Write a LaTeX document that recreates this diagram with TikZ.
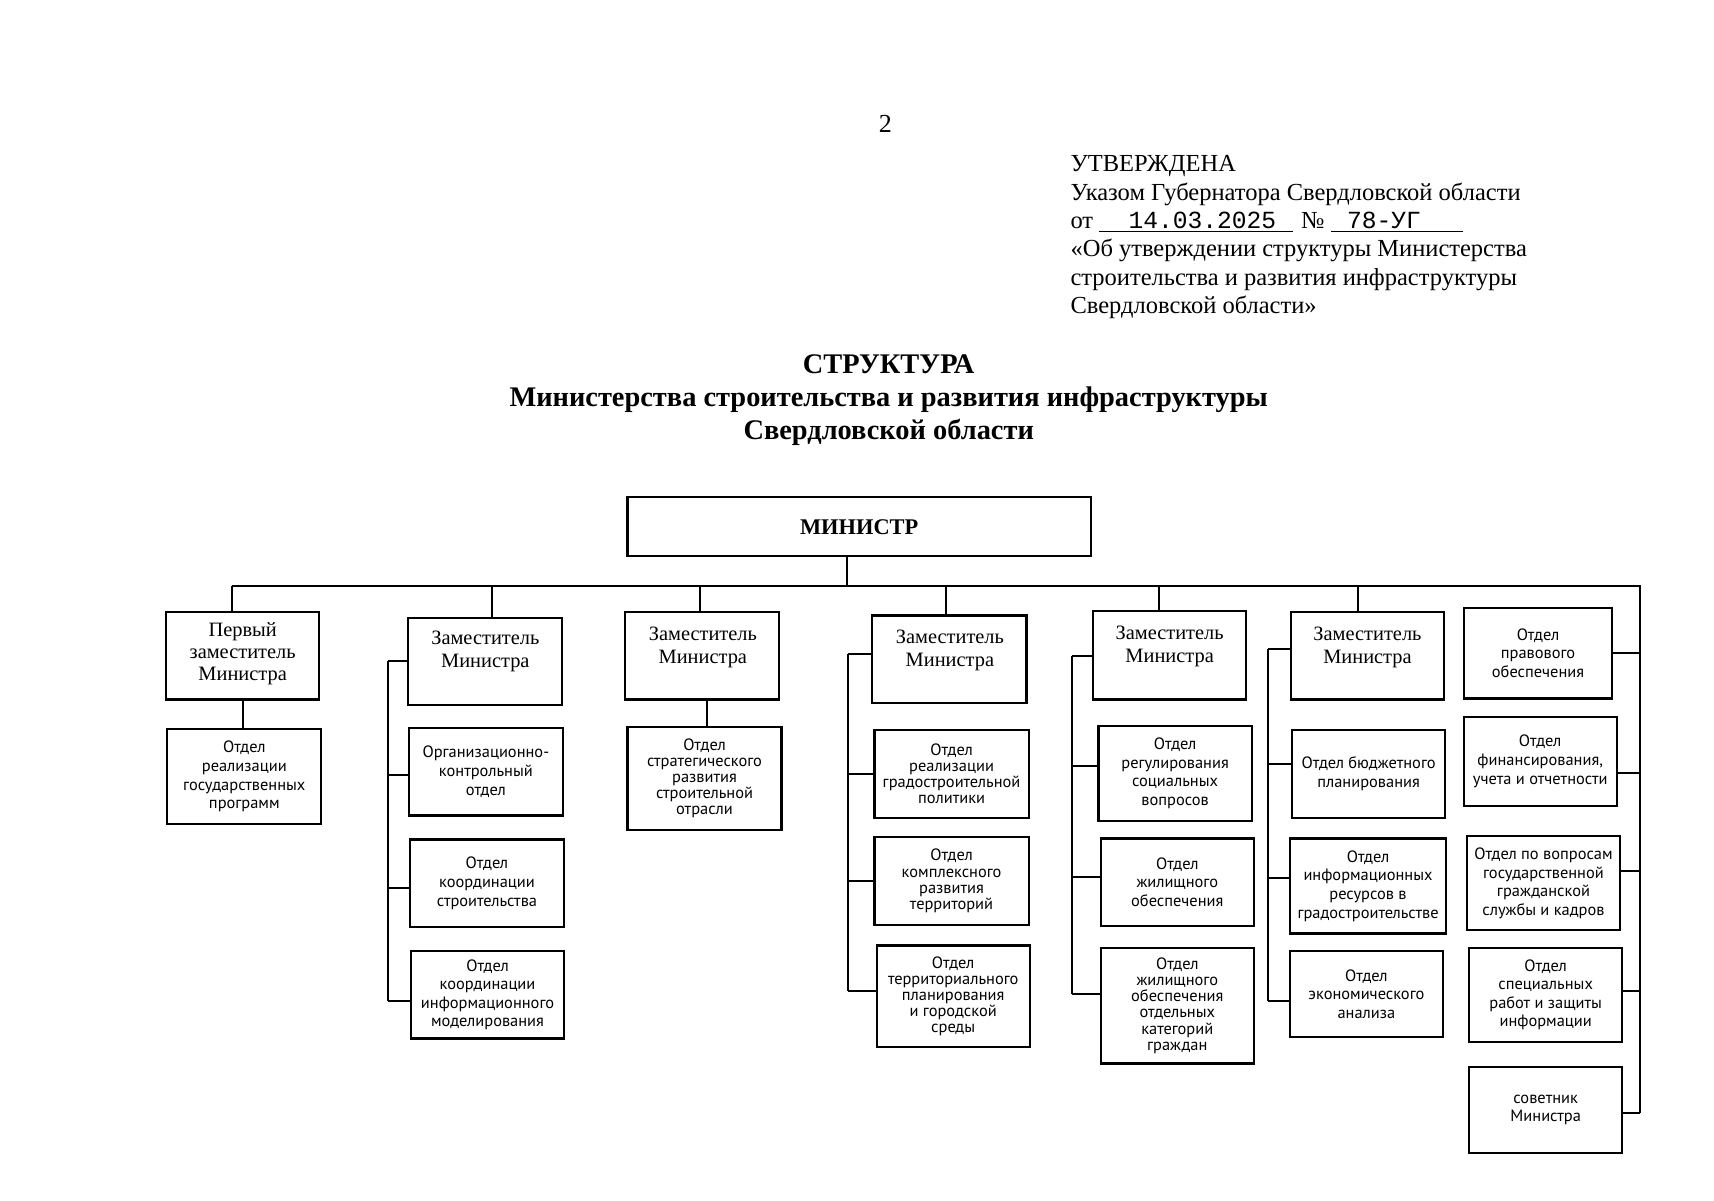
\documentclass[tikz,border=0pt]{standalone}
\usepackage{fontspec}
\setmainfont{Liberation Serif}
\newfontfamily\deptfont{PT Sans}
\newfontfamily\typefont{Liberation Mono}
\begin{document}
\begin{tikzpicture}[x=0.5466pt,y=-0.5466pt,
  at box/.style n args={4}{minimum width={(#3-#1)*0.5466pt}, minimum height={(#4-#2)*0.5466pt}, at={({(#1+#3)/2},{(#2+#4)/2})}},
  box/.style={draw, line width=1.1pt, inner sep=0pt, anchor=center},
  mbox/.style={box, font=\bfseries\fontsize{11.2pt}{13pt}\selectfont},
  dtext/.style={align=center, inner sep=0pt, font=\fontsize{10.2pt}{11.6pt}\selectfont},
  dept/.style={box, align=center, font=\deptfont\fontsize{8.2pt}{9.3pt}\selectfont},
  depttight/.style={box, align=center, font=\deptfont\fontsize{8.2pt}{8.1pt}\selectfont},
  hdr/.style={inner sep=0pt, anchor=base west, font=\fontsize{12.25pt}{14pt}\selectfont},
  typ/.style={inner sep=0pt, anchor=base, font=\typefont\fontsize{12.3pt}{13pt}\selectfont},
  ttl/.style={inner sep=0pt, anchor=base, font=\bfseries\fontsize{14.2pt}{16pt}\selectfont},
  link/.style={line width=1pt},
  uline/.style={line width=0.7pt}]
\fill[white] (0,0) rectangle (1568,1098);
\useasboundingbox (0,0) rectangle (1568,1098);

% ---------- header ----------
\node[hdr, anchor=center, font=\fontsize{13pt}{14pt}\selectfont] (pg) at (810,113) {2};
\node[hdr] (h1) at (979,157) {УТВЕРЖДЕНА};
\node[hdr] (h2) at (979,183) {Указом Губернатора Свердловской области};
\node[hdr] (h3) at (979,209) {от};
\node[typ] (h3a) at (1100,209) {14.03.2025};
\node[hdr] (h3b) at (1190,209) {№};
\node[typ, anchor=base west] (h3c) at (1232,209) {78-УГ};
\coordinate (u1a) at (1005,212); \coordinate (u1b) at (1183,212);
\coordinate (u2a) at (1218,212); \coordinate (u2b) at (1338,212);
\draw[uline] (u1a) -- (u1b);
\draw[uline] (u2a) -- (u2b);
\node[hdr] (h4) at (979,235) {«Об утверждении структуры Министерства};
\node[hdr] (h5) at (979,261) {строительства и развития инфраструктуры};
\node[hdr] (h6) at (979,287) {Свердловской области»};

% ---------- title ----------
\node[ttl] (t1) at (813,342) {СТРУКТУРА};
\node[ttl] (t2) at (813,372) {Министерства строительства и развития инфраструктуры};
\node[ttl] (t3) at (813,402) {Свердловской области};

% ---------- minister ----------
\node[mbox, at box={574}{455}{998}{509}] (m) {МИНИСТР};

% ---------- deputies ----------
\node[box, at box={152}{560}{292}{640}] (d1) {};
\node[dtext, font=\fontsize{10.2pt}{10.8pt}\selectfont] (d1t) at (222,598) {Первый\\заместитель\\Министра};
\node[box, at box={373}{565}{514}{645}] (d2) {};
\node[dtext] (d2t) at (444,596) {Заместитель\\Министра};
\node[box, at box={572}{560}{713}{640}] (d3) {};
\node[dtext] (d3t) at (643,592) {Заместитель\\Министра};
\node[box, at box={798}{563}{939}{643}] (d4) {};
\node[dtext] (d4t) at (869,595) {Заместитель\\Министра};
\node[box, at box={1000}{559}{1140}{640}] (d5) {};
\node[dtext] (d5t) at (1070,591) {Заместитель\\Министра};
\node[box, at box={1181}{560}{1321}{640}] (d6) {};
\node[dtext] (d6t) at (1251,592) {Заместитель\\Министра};

% ---------- departments ----------
\node[dept, at box={153}{667}{294}{754}] (o1) {Отдел\\реализации\\государственных\\программ};

\node[dept, at box={374}{666}{515}{746}] (o2a) {Организационно-\\контрольный\\отдел};
\node[dept, at box={375}{768}{516}{848}] (o2b) {Отдел\\координации\\строительства};
\node[dept, at box={376}{870}{516}{950}] (o2c) {Отдел\\координации\\информационного\\моделирования};

\node[depttight, at box={574}{665}{715}{759}] (o3) {Отдел\\стратегического\\развития\\строительной\\отрасли};

\node[depttight, at box={800}{668}{941}{748}] (o4a) {Отдел\\реализации\\градостроительной\\политики};
\node[depttight, at box={800}{766}{941}{846}] (o4b) {Отдел\\комплексного\\развития\\территорий};
\node[depttight, at box={802}{865}{942}{958}] (o4c) {Отдел\\территориального\\планирования\\и городской\\среды};

\node[dept, at box={1005}{664}{1145}{751}] (o5a) {Отдел\\регулирования\\социальных\\вопросов};
\node[dept, at box={1007}{767}{1147}{847}] (o5b) {Отдел\\жилищного\\обеспечения};
\node[depttight, at box={1007}{867}{1147}{973}] (o5c) {Отдел\\жилищного\\обеспечения\\отдельных\\категорий\\граждан};

\node[dept, at box={1182}{668}{1322}{748}] (o6a) {Отдел бюджетного\\планирования};
\node[dept, at box={1180}{767}{1323}{854}] (o6b) {Отдел\\информационных\\ресурсов в\\градостроительстве};
\node[dept, at box={1180}{870}{1320}{949}] (o6c) {Отдел\\экономического\\анализа};

\node[dept, at box={1339}{556}{1475}{639}] (s1) {Отдел\\правового\\обеспечения};
\node[dept, at box={1339}{656}{1479}{737}] (s2) {Отдел\\финансирования,\\учета и отчетности};
\node[dept, at box={1342}{765}{1482}{851}] (s3) {Отдел по вопросам\\государственной\\гражданской\\службы и кадров};
\node[dept, at box={1344}{867}{1484}{953}] (s4) {Отдел\\специальных\\работ и защиты\\информации};
\node[dept, at box={1344}{976}{1484}{1055}] (s5) {советник\\Министра};

% ---------- bus ----------
\coordinate (bm) at (775,536);
\coordinate (b1) at (212,536);
\coordinate (b2) at (450,536);
\coordinate (b3) at (640,536);
\coordinate (b4) at (865,536);
\coordinate (b5) at (1060,536);
\coordinate (b6) at (1242,536);
\coordinate (br) at (1500,536);
\coordinate (brend) at (1500,1018);
\draw[link] (b1) -- (br) -- (brend);
\draw[link] (bm |- m.south) -- (bm);
\foreach \i in {1,...,6}{\draw[link] (b\i) -- (b\i |- d\i.north);}

% first deputy and deputy 3 single links
\coordinate (c1) at (222,0);
\draw[link] (c1 |- d1.south) -- (c1 |- o1.north);
\coordinate (c3) at (647,0);
\draw[link] (c3 |- d3.south) -- (c3 |- o3.north);

% column 2
\coordinate (v2a) at (355,605); \coordinate (v2b) at (355,709);
\coordinate (v2c) at (355,812); \coordinate (v2d) at (355,916);
\draw[link] (v2a) -- (v2d);
\draw[link] (v2a) -- (v2a -| d2.west);
\draw[link] (v2b) -- (v2b -| o2a.west);
\draw[link] (v2c) -- (v2c -| o2b.west);
\draw[link] (v2d) -- (v2d -| o2c.west);

% column 4
\coordinate (v4a) at (776,598); \coordinate (v4b) at (776,708);
\coordinate (v4c) at (776,806); \coordinate (v4d) at (776,907);
\draw[link] (v4a) -- (v4d);
\draw[link] (v4a) -- (v4a -| d4.west);
\draw[link] (v4b) -- (v4b -| o4a.west);
\draw[link] (v4c) -- (v4c -| o4b.west);
\draw[link] (v4d) -- (v4d -| o4c.west);

% column 5
\coordinate (v5a) at (981,600); \coordinate (v5b) at (981,701);
\coordinate (v5c) at (981,802); \coordinate (v5d) at (981,909);
\draw[link] (v5a) -- (v5d);
\draw[link] (v5a) -- (v5a -| d5.west);
\draw[link] (v5b) -- (v5b -| o5a.west);
\draw[link] (v5c) -- (v5c -| o5b.west);
\draw[link] (v5d) -- (v5d -| o5c.west);

% column 6
\coordinate (v6a) at (1160,594); \coordinate (v6b) at (1160,699);
\coordinate (v6c) at (1160,803); \coordinate (v6d) at (1160,916);
\draw[link] (v6a) -- (v6d);
\draw[link] (v6a) -- (v6a -| d6.west);
\draw[link] (v6b) -- (v6b -| o6a.west);
\draw[link] (v6c) -- (v6c -| o6b.west);
\draw[link] (v6d) -- (v6d -| o6c.west);

% staff column
\coordinate (r1) at (1500,597); \coordinate (r2) at (1500,707);
\coordinate (r3) at (1500,797); \coordinate (r4) at (1500,907);
\draw[link] (r1) -- (r1 -| s1.east);
\draw[link] (r2) -- (r2 -| s2.east);
\draw[link] (r3) -- (r3 -| s3.east);
\draw[link] (r4) -- (r4 -| s4.east);
\draw[link] (brend) -- (brend -| s5.east);
\end{tikzpicture}
\end{document}
